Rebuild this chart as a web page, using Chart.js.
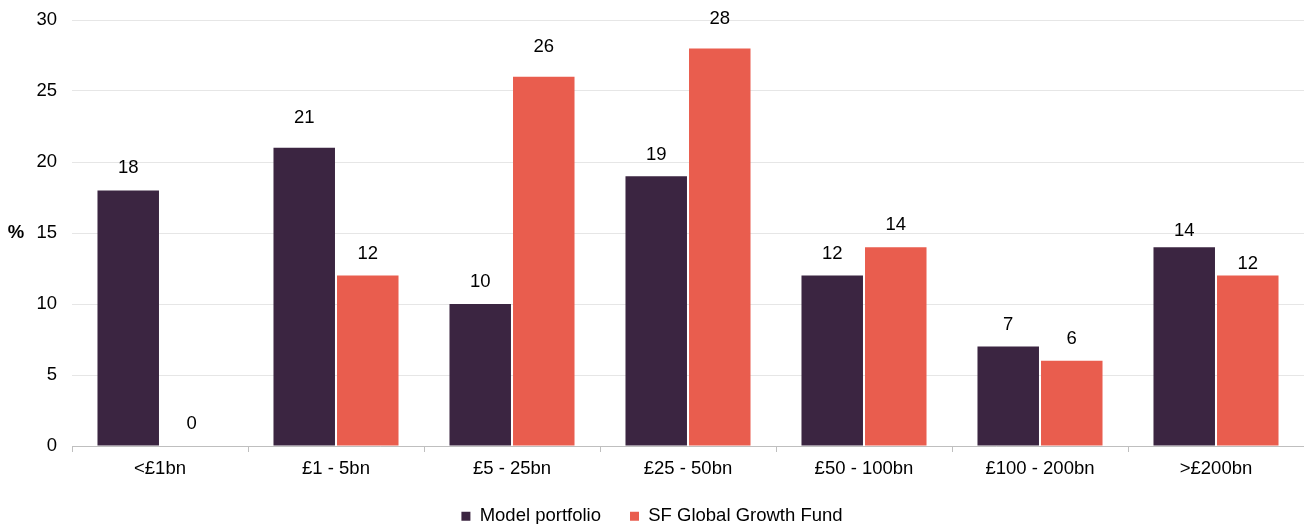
<!DOCTYPE html>
<html>
<head>
<meta charset="utf-8">
<script src="https://cdn.jsdelivr.net/npm/chart.js@4"></script>
<style>
  html, body { margin: 0; padding: 0; background: #fff; }
  #wrap { width: 1304px; height: 524px; }
</style>
</head>
<body>
<div id="wrap"><canvas id="barchart"></canvas></div>
<script>
const categories = ['<£1bn', '£1 - 5bn', '£5 - 25bn', '£25 - 50bn', '£50 - 100bn', '£100 - 200bn', '>£200bn'];
const modelPortfolio = [18, 21, 10, 19, 12, 7, 14];
const sfGlobalGrowth = [0, 12, 26, 28, 14, 6, 12];
const yTicks = [0, 5, 10, 15, 20, 25, 30];

const fontFamily = '"Liberation Sans", Arial, sans-serif';
const fontSize = 18.5;

// value labels above each bar (the original has a few labels pushed by hand)
const labelLift = [
    [22, 30, 22, 21, 22, 22, 16],
    [22, 22, 30, 29, 22, 22, 12]
];
const valueLabels = {
    id: 'valueLabels',
    afterDatasetsDraw(chart) {
        const ctx = chart.ctx;
        ctx.save();
        ctx.font = fontSize + 'px ' + fontFamily;
        ctx.fillStyle = '#000';
        ctx.textAlign = 'center';
        ctx.textBaseline = 'middle';
        chart.data.datasets.forEach((ds, i) => {
            chart.getDatasetMeta(i).data.forEach((bar, j) => {
                ctx.fillText(ds.data[j], bar.x, bar.y - labelLift[i][j]);
            });
        });
        ctx.restore();
    }
};

// unrotated "%" axis title
const percentTitle = {
    id: 'percentTitle',
    afterDraw(chart) {
        const ctx = chart.ctx;
        const y = chart.scales.y;
        ctx.save();
        ctx.font = 'bold ' + fontSize + 'px ' + fontFamily;
        ctx.fillStyle = '#000';
        ctx.textAlign = 'center';
        ctx.textBaseline = 'middle';
        ctx.fillText('%', 16, y.getPixelForValue(15));
        ctx.restore();
    }
};

const ctxBar = document.getElementById('barchart').getContext('2d');

const barchart = new Chart(ctxBar, {
    type: 'bar',
    data: {
        labels: categories,
        datasets: [{
            label: 'Model portfolio',
            data: modelPortfolio,
            backgroundColor: '#3b2541',
            categoryPercentage: 0.722,
            barPercentage: 0.968
        }, {
            label: 'SF Global Growth Fund',
            data: sfGlobalGrowth,
            backgroundColor: '#e95d4e',
            categoryPercentage: 0.722,
            barPercentage: 0.968
        }]
    },
    options: {
        responsive: true,
        maintainAspectRatio: false,
        animation: false,
        layout: {
            padding: { top: 20, right: 0, left: 0, bottom: 0 }
        },
        plugins: {
            tooltip: { enabled: false },
            legend: {
                position: 'bottom',
                maxHeight: 46,
                labels: {
                    color: '#000',
                    boxWidth: 9,
                    boxHeight: 9,
                    padding: 29,
                    font: { size: fontSize, family: fontFamily }
                }
            }
        },
        scales: {
            x: {
                offset: true,
                afterFit(scale) { scale.height = 32; },
                grid: {
                    offset: true,
                    drawOnChartArea: false,
                    tickLength: 6,
                    color: '#bfbfbf'
                },
                border: { color: '#bfbfbf' },
                ticks: {
                    color: '#000',
                    padding: 6,
                    font: { size: fontSize, family: fontFamily }
                }
            },
            y: {
                min: 0,
                max: 30,
                afterFit(scale) {
                    scale.width = 72;
                    scale.paddingTop = 0;
                    scale.paddingBottom = 0;
                },
                afterBuildTicks(scale) { scale.ticks = yTicks.map(v => ({ value: v })); },
                grid: {
                    color: '#e6e6e6',
                    drawTicks: false
                },
                border: { display: false },
                ticks: {
                    color: '#000',
                    padding: 15,
                    font: { size: fontSize, family: fontFamily }
                }
            }
        }
    },
    plugins: [valueLabels, percentTitle]
});
</script>
</body>
</html>
